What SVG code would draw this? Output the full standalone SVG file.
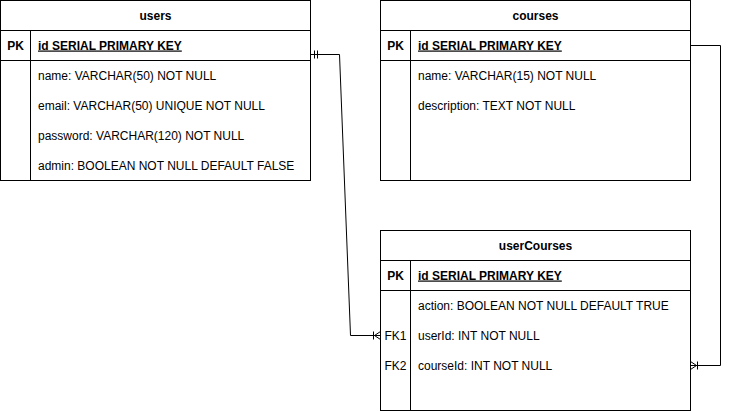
<svg xmlns="http://www.w3.org/2000/svg" width="729" height="411" viewBox="0 0 729 411">
<style>
  .box { fill: #ffffff; stroke: #000000; stroke-width: 1; }
  .ln { fill: none; stroke: #000000; stroke-width: 1; }
  text { font-family: "Liberation Sans", Arial, Helvetica, sans-serif; font-size: 12px; fill: #000000; }
  .title { font-weight: bold; text-anchor: middle; }
  .key { font-weight: bold; text-anchor: middle; }
  .pk { font-weight: bold; text-decoration: underline; }
  .conn { fill: none; stroke: #000000; stroke-width: 1; }
</style>
<defs>
  <marker id="crow" markerUnits="userSpaceOnUse" markerWidth="14" markerHeight="14" viewBox="-10 -7 14 14" refX="0" refY="0" orient="auto" overflow="visible">
    <path d="M-7,-4 V4 M-6,0 L0,-4 M-6,0 L0,4" fill="none" stroke="#000000" stroke-width="1"/>
  </marker>
  <marker id="one" markerUnits="userSpaceOnUse" markerWidth="14" markerHeight="14" viewBox="-2 -7 14 14" refX="0" refY="0" orient="auto" overflow="visible">
    <path d="M4,-4 V4 M7,-4 V4" fill="none" stroke="#000000" stroke-width="1"/>
  </marker>
</defs>
<rect x="0" y="0" width="729" height="411" fill="#ffffff"/>

<g id="users">
  <rect class="box" x="0.5" y="0.5" width="310" height="180"/>
  <path class="ln" d="M0.5,30.5 H310.5 M0.5,60.5 H310.5 M30.5,30.5 V180.5"/>
  <text class="title" x="155.5" y="19.5">users</text>
  <text class="key" x="15.5" y="49.5">PK</text>
  <text class="pk" x="38" y="49.5">id SERIAL PRIMARY KEY</text>
  <text x="38" y="79.5">name: VARCHAR(50) NOT NULL</text>
  <text x="38" y="109.5">email: VARCHAR(50) UNIQUE NOT NULL</text>
  <text x="38" y="139.5">password: VARCHAR(120) NOT NULL</text>
  <text x="38" y="169.5">admin: BOOLEAN NOT NULL DEFAULT FALSE</text>
</g>

<g id="courses">
  <rect class="box" x="380.5" y="0.5" width="310" height="180"/>
  <path class="ln" d="M380.5,30.5 H690.5 M380.5,60.5 H690.5 M410.5,30.5 V180.5"/>
  <text class="title" x="535.5" y="19.5">courses</text>
  <text class="key" x="395.5" y="49.5">PK</text>
  <text class="pk" x="418" y="49.5">id SERIAL PRIMARY KEY</text>
  <text x="418" y="79.5">name: VARCHAR(15) NOT NULL</text>
  <text x="418" y="109.5">description: TEXT NOT NULL</text>
</g>

<g id="userCourses">
  <rect class="box" x="380.5" y="230.5" width="310" height="180"/>
  <path class="ln" d="M380.5,260.5 H690.5 M380.5,290.5 H690.5 M410.5,260.5 V410.5"/>
  <text class="title" x="535.5" y="249.5">userCourses</text>
  <text class="key" x="395.5" y="279.5">PK</text>
  <text class="pk" x="418" y="279.5">id SERIAL PRIMARY KEY</text>
  <text x="418" y="309.5">action: BOOLEAN NOT NULL DEFAULT TRUE</text>
  <text x="395.5" y="339.5" text-anchor="middle">FK1</text>
  <text x="418" y="339.5">userId: INT NOT NULL</text>
  <text x="395.5" y="369.5" text-anchor="middle">FK2</text>
  <text x="418" y="369.5">courseId: INT NOT NULL</text>
</g>

<g id="connectors">
  <path id="users-userCourses" class="conn" d="M310.5,54.5 L339.5,54.5 L350.5,335.5 L380.5,335.5" marker-start="url(#one)" marker-end="url(#crow)"/>
  <path id="courses-userCourses" class="conn" d="M690.5,45.5 L720.5,45.5 L720.5,365.5 L690.5,365.5" marker-end="url(#crow)"/>
</g>
</svg>
